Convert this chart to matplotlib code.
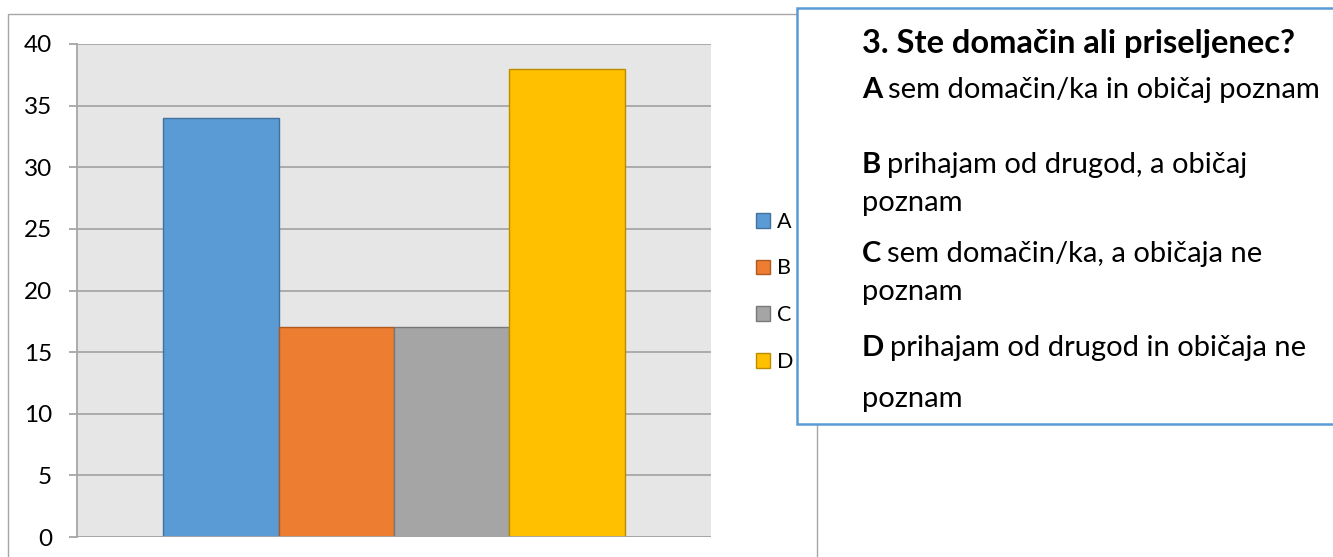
import matplotlib
matplotlib.use("Agg")
import matplotlib.pyplot as plt
from matplotlib.patches import Rectangle

# data
categories = ["A", "B", "C", "D"]
values = [34, 17, 17, 38]
colors = ["#5B9BD5", "#ED7D31", "#A5A5A5", "#FFC000"]
edges = ["#41719C", "#AE5A21", "#787878", "#BC8C00"]
yticks = [0, 5, 10, 15, 20, 25, 30, 35, 40]

title = "3. Ste domačin ali priseljenec?"
answers = [
    ("A", ["sem domačin/ka in običaj poznam"]),
    ("B", ["prihajam od drugod, a običaj", "poznam"]),
    ("C", ["sem domačin/ka, a običaja ne", "poznam"]),
    ("D", ["prihajam od drugod in običaja ne", "poznam"]),
]

W, H = 1333, 557
FONT = "Lato"
plt.rcParams["font.family"] = [FONT, "DejaVu Sans"]


def fx(x):
    return x / W


def fy(y):
    return 1 - y / H


fig = plt.figure(figsize=(W / 100, H / 100), dpi=100)

# outer chart frame
fig.add_artist(Rectangle((fx(8), fy(575)), fx(817) - fx(8), fy(14) - fy(575),
                         transform=fig.transFigure, fill=False,
                         edgecolor="#A6A6A6", lw=1, zorder=0))

ax = fig.add_axes([fx(77), fy(537), fx(711) - fx(77), fy(44) - fy(537)])
ax.set_facecolor("#E7E6E6")
x = range(len(categories))
bars = ax.bar(x, values, width=1.0, color=colors, edgecolor=edges, linewidth=1,
              zorder=3)
ax.set_xlim(-1.25, len(categories) + 0.25)
ax.set_ylim(0, 40)
ax.set_yticks(yticks)
ax.set_yticklabels([str(v) for v in yticks], fontsize=17.5)
ax.set_xticks([])
ax.grid(axis="y", color="#A6A6A6", lw=1.3, zorder=1)
for s in ["top", "right", "bottom"]:
    ax.spines[s].set_visible(False)
ax.spines["left"].set_color("#A6A6A6")
ax.spines["left"].set_linewidth(1.3)
ax.axhline(0, color="#A6A6A6", lw=1.3, zorder=4)
ax.tick_params(axis="y", length=6, width=1.3, color="#A6A6A6", pad=12,
               labelcolor="black")

ax.legend(bars, categories, loc="upper left", bbox_to_anchor=(fx(745), fy(201)),
          bbox_transform=fig.transFigure, frameon=False, fontsize=15.5,
          handlelength=0.68, handleheight=0.68, handletextpad=0.3,
          labelspacing=1.24, borderpad=0)

# text box
fig.add_artist(Rectangle((fx(797), fy(424)), fx(1345) - fx(797), fy(8) - fy(424),
                         transform=fig.transFigure, facecolor="white",
                         edgecolor="#5B9BD5", lw=1.8, zorder=5))

fig.text(fx(862), fy(53), title, fontsize=23.5, fontweight="bold",
         ha="left", va="baseline", zorder=6)

baselines = [[98], [173, 211], [262, 300], [356, 407]]
renderer = fig.canvas.get_renderer()
for (letter, lines), ys in zip(answers, baselines):
    t = fig.text(fx(862), fy(ys[0]), letter, fontsize=21, fontweight="bold",
                 ha="left", va="baseline", zorder=6)
    bb = t.get_window_extent(renderer)
    fig.text(fx(bb.x1 + 6), fy(ys[0]), lines[0], fontsize=21,
             ha="left", va="baseline", zorder=6)
    for line, yy in zip(lines[1:], ys[1:]):
        fig.text(fx(862), fy(yy), line, fontsize=21,
                 ha="left", va="baseline", zorder=6)

fig.savefig("out.png", dpi=100)
